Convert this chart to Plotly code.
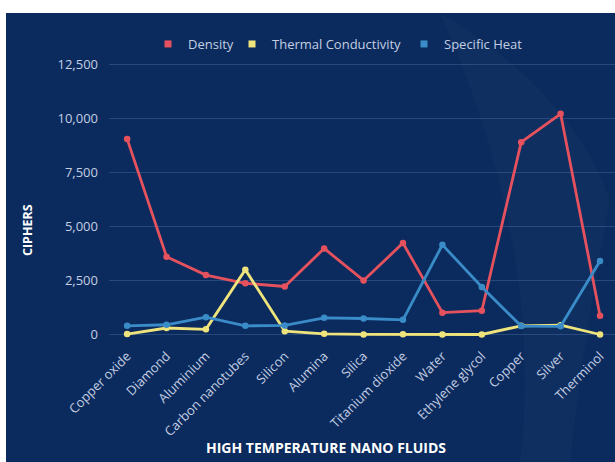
import plotly.graph_objects as go

categories = ["Copper oxide", "Diamond", "Aluminium", "Carbon nanotubes", "Silicon",
              "Alumina", "Silica", "Titanium dioxide", "Water", "Ethylene glycol",
              "Copper", "Silver", "Therminol"]
density = [9050, 3600, 2750, 2370, 2220, 3980, 2500, 4230, 1010, 1100, 8900, 10210, 870]
thermal_conductivity = [20, 300, 237, 3000, 150, 30, 1.4, 8.4, 0.6, 0.25, 401, 429, 0.1]
specific_heat = [400, 450, 800, 400, 420, 770, 740, 680, 4150, 2200, 390, 380, 3400]
y_ticks = [0, 2500, 5000, 7500, 10000, 12500]

RED = "#e5525e"
YELLOW = "#efe47c"
BLUE = "#3a8cc8"
NAVY = "#0b2b5e"
FONT = "Open Sans"
LABEL = "#c3cee2"

W, H = 615, 462
# plot area in screen coordinates: x 109..615, y 60..345
L, T, R = 109, 60, 0
B = H - 345
pw, ph = W - L - R, H - T - B

def px_x(sx):
    return (sx - L) / pw

def px_y(sy):
    return (H - B - sy) / ph

fig = go.Figure()
series = [("Density", density, RED, "legend"),
          ("Thermal Conductivity", thermal_conductivity, YELLOW, "legend2"),
          ("Specific Heat", specific_heat, BLUE, "legend3")]
for name, vals, col, lg in series:
    fig.add_trace(go.Scatter(x=categories, y=vals, mode="lines+markers", name=name,
                             line=dict(color=col, width=2.8),
                             marker=dict(color=col, size=6.5), showlegend=False))
for name, vals, col, lg in series:
    fig.add_trace(go.Scatter(x=[None], y=[None], mode="markers", name=name,
                             marker=dict(color=col, size=7, symbol="square"),
                             legend=lg, showlegend=True))

legend_common = dict(orientation="h", yanchor="middle", xanchor="left",
                     bgcolor="rgba(0,0,0,0)",
                     font=dict(family=FONT, size=13, color=LABEL))
# legend origin = text start - 40 px
fig.update_layout(
    legend=dict(x=px_x(188 - 40), y=px_y(44), **legend_common),
    legend2=dict(x=px_x(272 - 40), y=px_y(44), **legend_common),
    legend3=dict(x=px_x(444 - 40), y=px_y(44), **legend_common),
)

# background panel
fig.add_shape(type="rect", xref="paper", yref="paper",
              x0=px_x(6), x1=1.05, y0=px_y(490), y1=px_y(13),
              fillcolor=NAVY, line=dict(width=0), layer="below")
# faint lighter swoosh on the right
def pt(sx, sy):
    return f"{px_x(sx):.4f},{px_y(sy):.4f}"
swoosh = (f"M {pt(440, 13)} Q {pt(570, 90)} {pt(610, 200)} "
          f"Q {pt(585, 330)} {pt(570, 462)} L {pt(520, 462)} "
          f"Q {pt(545, 250)} {pt(440, 13)} Z")
fig.add_shape(type="path", xref="paper", yref="paper", path=swoosh,
              fillcolor="rgba(255,255,255,0.018)", line=dict(width=0), layer="below")

fig.add_annotation(text="<b>CIPHERS</b>", xref="paper", yref="paper",
                   x=px_x(27), y=px_y(230), xanchor="center", yanchor="middle",
                   textangle=-90, showarrow=False,
                   font=dict(family=FONT, size=12.5, color="white"))
fig.add_annotation(text="<b>HIGH TEMPERATURE NANO FLUIDS</b>", xref="paper", yref="paper",
                   x=px_x(326), y=px_y(447), xanchor="center", yanchor="middle",
                   showarrow=False,
                   font=dict(family=FONT, size=14, color="white"))

fig.update_layout(
    width=W, height=H,
    margin=dict(l=L, r=R, t=T, b=B),
    paper_bgcolor="white",
    plot_bgcolor="rgba(0,0,0,0)",
    xaxis=dict(type="category", range=[-0.46, 12.38], tickangle=-45,
               showgrid=False, showline=False, zeroline=False,
               tickfont=dict(family=FONT, size=13, color=LABEL)),
    yaxis=dict(range=[-486, 12700], tickvals=y_ticks,
               ticktext=[f"{v:,}" for v in y_ticks],
               gridcolor="rgba(110,150,205,0.28)", gridwidth=1,
               zeroline=False, showline=False, ticklabelstandoff=10,
               tickfont=dict(family=FONT, size=13, color=LABEL)),
)

fig.write_html("out.html", config={"displayModeBar": False},
               post_script="document.body.style.margin='0';document.body.style.overflow='hidden';")
